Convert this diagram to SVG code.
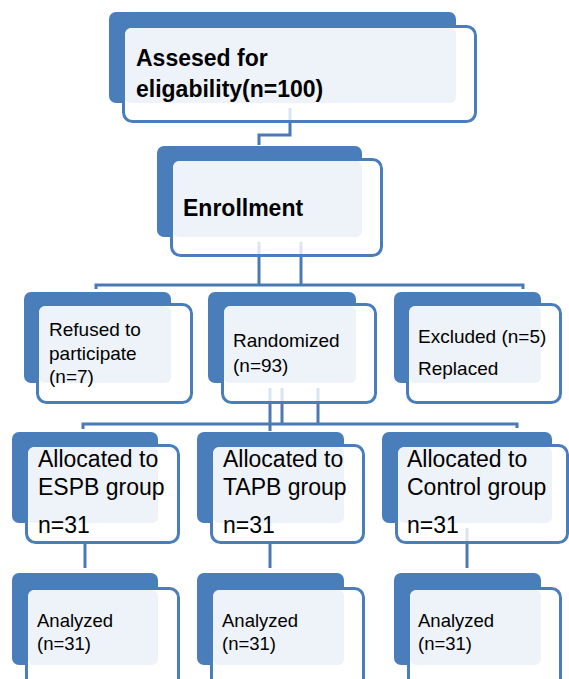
<svg xmlns="http://www.w3.org/2000/svg" width="569" height="679" viewBox="0 0 569 679">
<style>
.bk{fill:#4a7ebb}
.fr{fill:#ffffff;stroke:#4a7ebb;stroke-width:3}
.lt{fill:#eef3fa}
.t{font-family:"Liberation Sans",Arial,sans-serif;fill:#000}
.b{font-weight:bold}
.c{fill:none;stroke:#4a7ab5;stroke-width:3}
.cf{fill:none;stroke:#dbe5f1;stroke-width:3}
</style>
<rect width="569" height="679" fill="#ffffff"/>
<g id="assessed">
<rect class="bk" x="109" y="12" width="347" height="91" rx="7"/>
<rect class="fr" x="123.5" y="26.5" width="352" height="95" rx="9"/>
<rect class="lt" x="125" y="28" width="331" height="75" rx="6"/>
<text class="t b" font-size="23"><tspan x="136" y="66">Assesed for</tspan><tspan x="136" y="97">eligability(n=100)</tspan></text>
</g>
<g id="enrollment">
<rect class="bk" x="157" y="146" width="205" height="91" rx="7"/>
<rect class="fr" x="171.5" y="159.5" width="210" height="96" rx="9"/>
<rect class="lt" x="173" y="161" width="189" height="76" rx="6"/>
<text class="t b" font-size="23" x="183" y="216">Enrollment</text>
</g>
<g id="refused">
<rect class="bk" x="24" y="292" width="147" height="91" rx="7"/>
<rect class="fr" x="37.5" y="304.5" width="154" height="98" rx="9"/>
<rect class="lt" x="39" y="306" width="132" height="77" rx="6"/>
<text class="t" font-size="19"><tspan x="49" y="336">Refused to</tspan><tspan x="49" y="360">participate</tspan><tspan x="49" y="383">(n=7)</tspan></text>
</g>
<g id="randomized">
<rect class="bk" x="208" y="292" width="148" height="91" rx="7"/>
<rect class="fr" x="222.5" y="304.5" width="153" height="98" rx="9"/>
<rect class="lt" x="224" y="306" width="132" height="77" rx="6"/>
<text class="t" font-size="19"><tspan x="233" y="347">Randomized</tspan><tspan x="233" y="372">(n=93)</tspan></text>
</g>
<g id="excluded">
<rect class="bk" x="394" y="292" width="147" height="91" rx="7"/>
<rect class="fr" x="407.5" y="304.5" width="153" height="98" rx="9"/>
<rect class="lt" x="409" y="306" width="132" height="77" rx="6"/>
<text class="t" font-size="19"><tspan x="418" y="343">Excluded (n=5)</tspan><tspan x="418" y="375">Replaced</tspan></text>
</g>
<g id="espb">
<rect class="bk" x="12" y="432" width="146" height="91" rx="7"/>
<rect class="fr" x="26.5" y="445.5" width="152" height="97" rx="9"/>
<rect class="lt" x="28" y="447" width="130" height="76" rx="6"/>
<text class="t" font-size="23"><tspan x="38" y="467">Allocated to</tspan><tspan x="38" y="495">ESPB group</tspan><tspan x="38" y="533">n=31</tspan></text>
</g>
<g id="tapb">
<rect class="bk" x="197" y="432" width="147" height="91" rx="7"/>
<rect class="fr" x="211.5" y="445.5" width="152" height="97" rx="9"/>
<rect class="lt" x="213" y="447" width="131" height="76" rx="6"/>
<text class="t" font-size="23"><tspan x="223" y="467">Allocated to</tspan><tspan x="223" y="495">TAPB group</tspan><tspan x="223" y="533">n=31</tspan></text>
</g>
<g id="control">
<rect class="bk" x="382" y="432" width="170" height="91" rx="7"/>
<rect class="fr" x="396.5" y="445.5" width="171" height="97" rx="9"/>
<rect class="lt" x="398" y="447" width="154" height="76" rx="6"/>
<text class="t" font-size="23"><tspan x="407" y="467">Allocated to</tspan><tspan x="407" y="495">Control group</tspan><tspan x="407" y="533">n=31</tspan></text>
</g>
<g id="analyzed-espb">
<rect class="bk" x="12" y="573" width="146" height="92" rx="7"/>
<rect class="fr" x="26.5" y="588.5" width="152" height="100" rx="9"/>
<rect class="lt" x="28" y="590" width="130" height="75" rx="6"/>
<text class="t" font-size="18.5"><tspan x="37" y="627">Analyzed</tspan><tspan x="37" y="650">(n=31)</tspan></text>
</g>
<g id="analyzed-tapb">
<rect class="bk" x="197" y="573" width="147" height="92" rx="7"/>
<rect class="fr" x="211.5" y="588.5" width="152" height="100" rx="9"/>
<rect class="lt" x="213" y="590" width="131" height="75" rx="6"/>
<text class="t" font-size="18.5"><tspan x="222" y="627">Analyzed</tspan><tspan x="222" y="650">(n=31)</tspan></text>
</g>
<g id="analyzed-control">
<rect class="bk" x="394" y="573" width="147" height="92" rx="7"/>
<rect class="fr" x="408.5" y="588.5" width="152" height="100" rx="9"/>
<rect class="lt" x="410" y="590" width="131" height="75" rx="6"/>
<text class="t" font-size="18.5"><tspan x="418" y="627">Analyzed</tspan><tspan x="418" y="650">(n=31)</tspan></text>
</g>
<g id="connectors">
<path class="cf" d="M290 108V120M259 242V254M301 242V254M270 388V401M282 388V401M318 388V401M467 528V541"/>
<path class="c" d="M290 123V135H259V145"/>
<path class="c" d="M259 257V285M301 257V285M96 289V285H523V289"/>
<path class="c" d="M270 404V431M282 404V424M318 404V424M83 429V424H517V428"/>
<path class="c" d="M85 544V568M270 544V568M467 544V568"/>
</g>
</svg>
